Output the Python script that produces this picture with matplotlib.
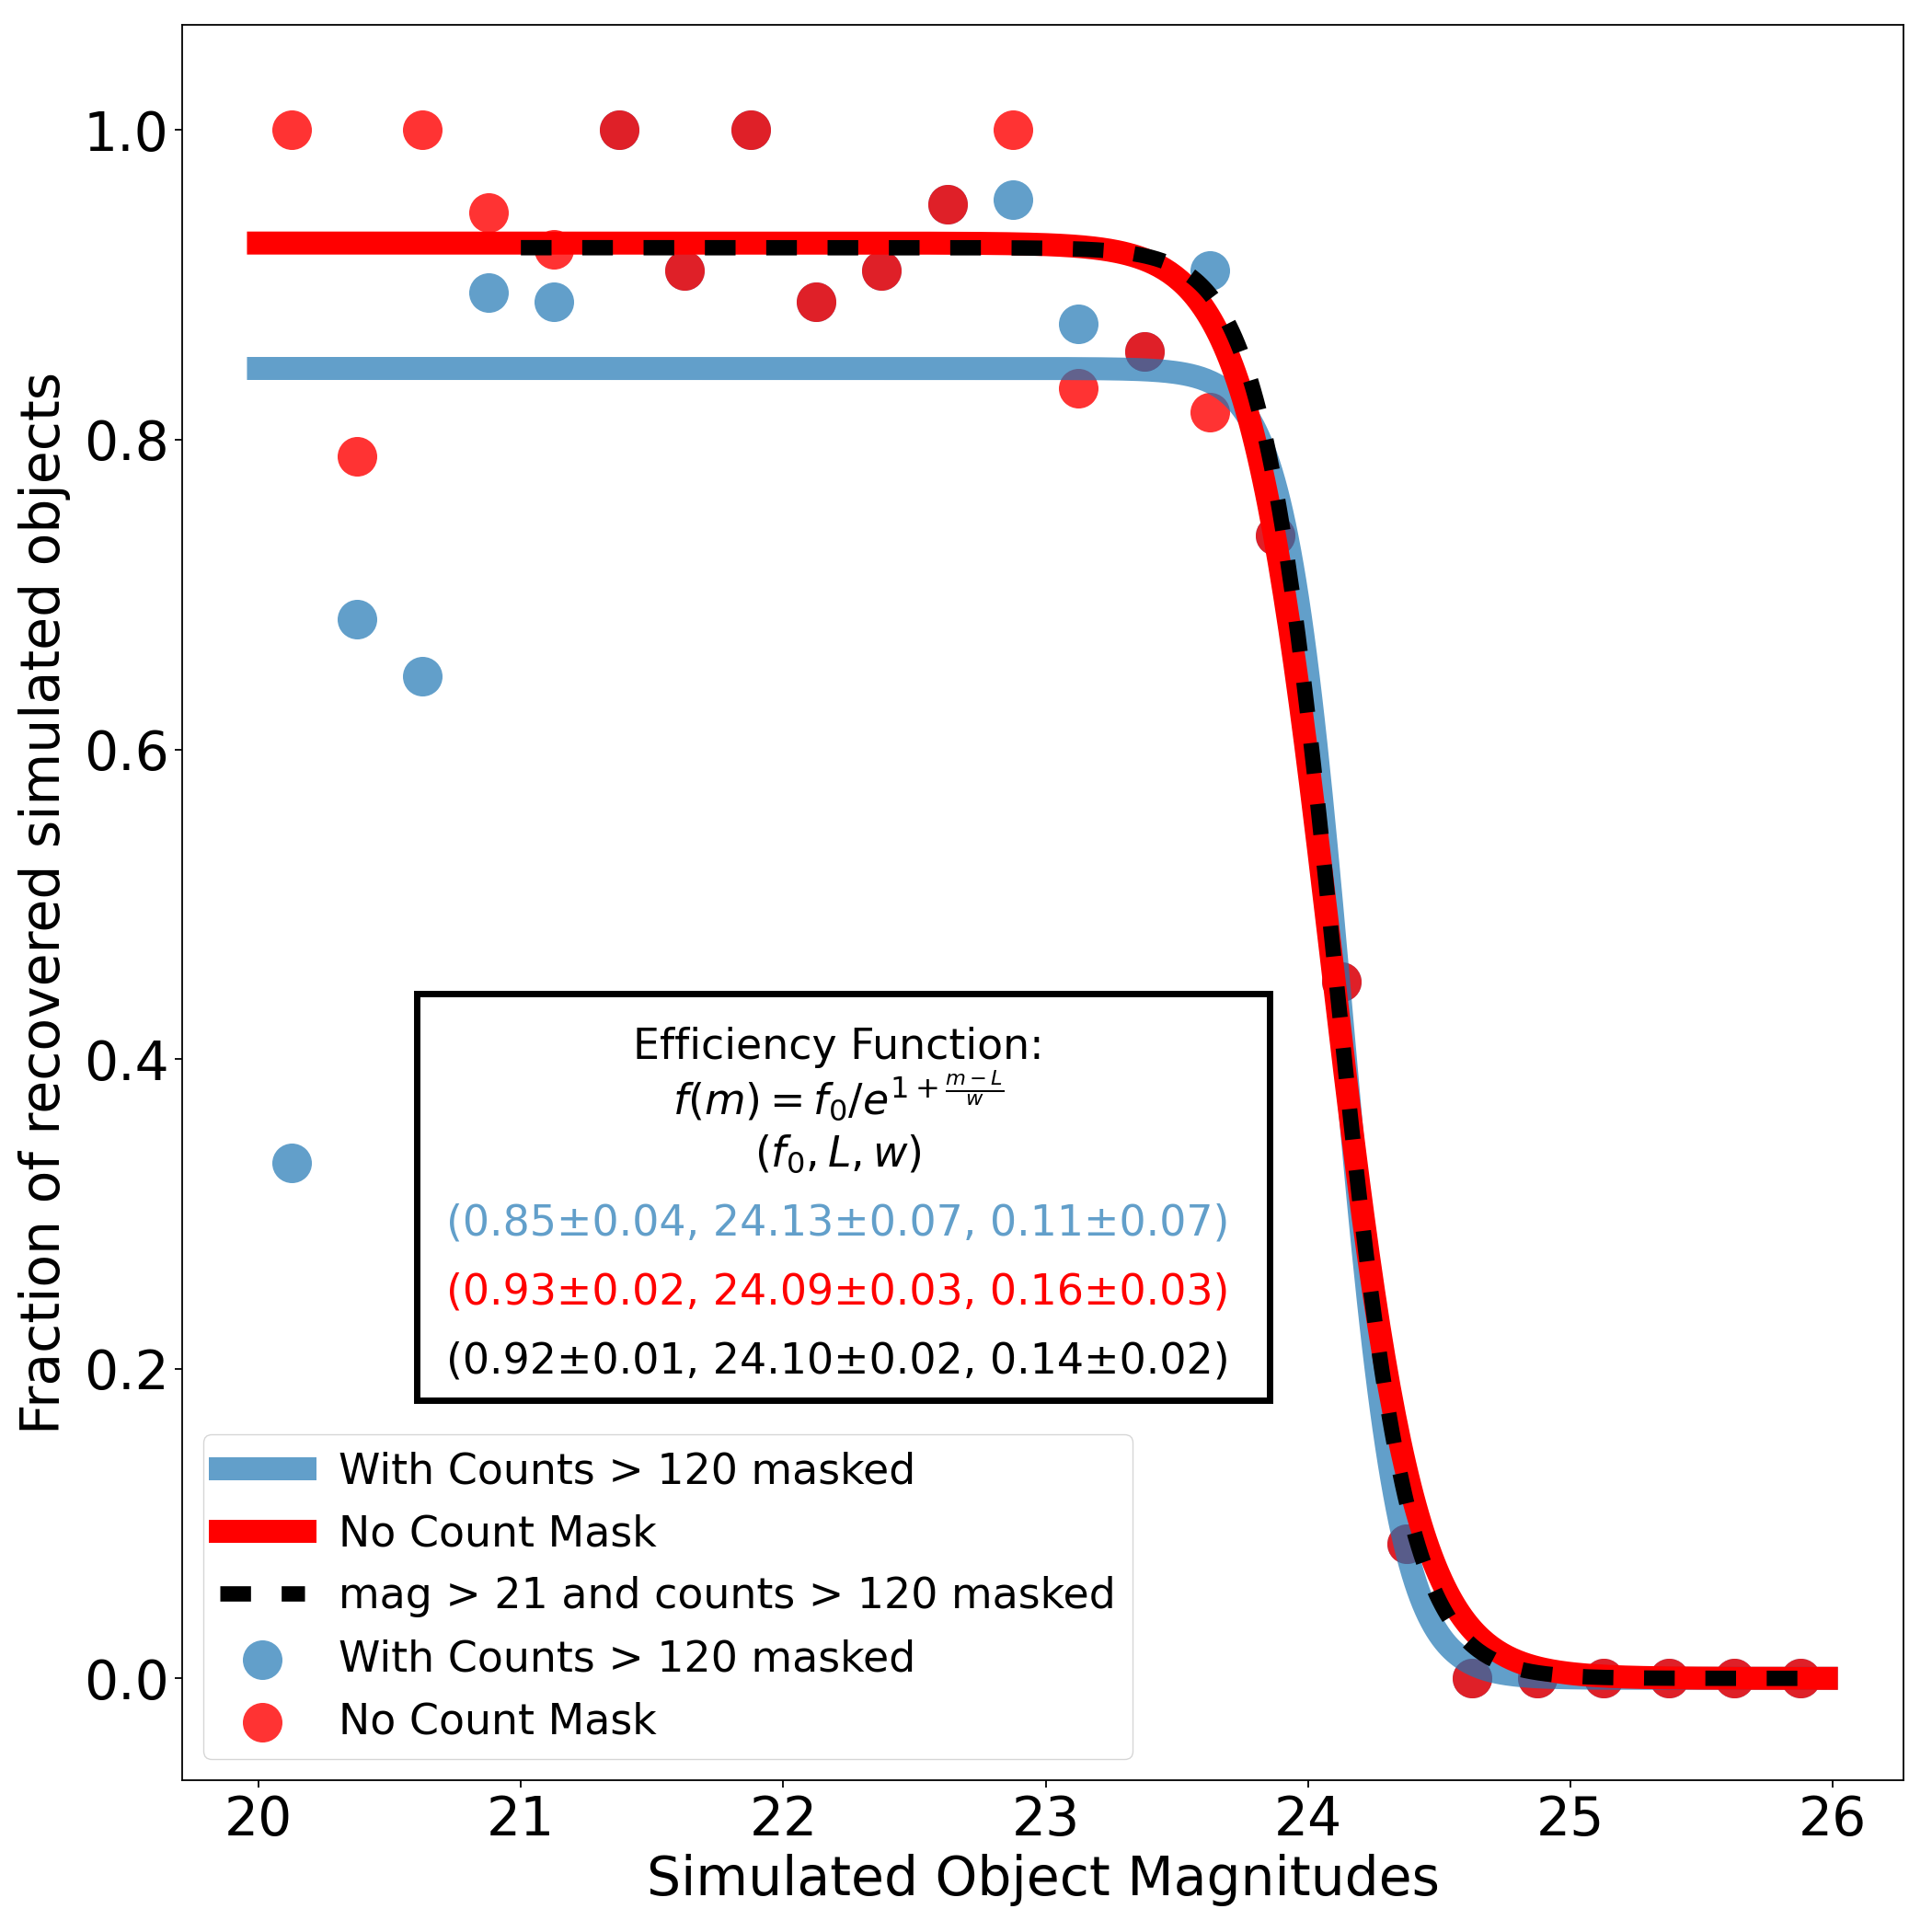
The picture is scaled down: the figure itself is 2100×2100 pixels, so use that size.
import numpy as np
import matplotlib.pyplot as plt
from matplotlib.patches import Rectangle

# ---------------- data ---------------- #
mags = [20.125, 20.375, 20.625, 20.875, 21.125, 21.375, 21.625, 21.875,
        22.125, 22.375, 22.625, 22.875, 23.125, 23.375, 23.625, 23.875,
        24.125, 24.375, 24.625, 24.875, 25.125, 25.375, 25.625, 25.875]

frac_masked = [0.333, 0.684, 0.647, 0.895, 0.889, 1.0, 0.909, 1.0,
               0.889, 0.909, 0.952, 0.955, 0.875, 0.857, 0.909, 0.738,
               0.45, 0.087, 0.0, 0.0, 0.0, 0.0, 0.0, 0.0]

frac_nomask = [1.0, 0.789, 1.0, 0.947, 0.923, 1.0, 0.909, 1.0,
               0.889, 0.909, 0.952, 1.0, 0.833, 0.857, 0.818, 0.738,
               0.45, 0.087, 0.0, 0.0, 0.0, 0.0, 0.0, 0.0]

# fit parameters (f0, L, w) and errors
fit_masked = (0.846, 24.13, 0.11)
err_masked = (0.04, 0.07, 0.07)
fit_nomask = (0.927, 24.09, 0.16)
err_nomask = (0.02, 0.03, 0.03)
fit_faint = (0.924, 24.10, 0.14)
err_faint = (0.01, 0.02, 0.02)

lab_masked = "With Counts > 120 masked"
lab_nomask = "No Count Mask"
lab_faint = "mag > 21 and counts > 120 masked"

# ---------------- fonctions ---------------- #
def efficiency(m, f0, L, w):
    return f0 / (1 + np.exp((m - L) / w))

def fit_text(p, e):
    return "({:.2f}\u00b1{:.2f}, {:.2f}\u00b1{:.2f}, {:.2f}\u00b1{:.2f})".format(
        p[0] - 1e-6, e[0], p[1], e[1], p[2], e[2])

# ---------------- figure ---------------- #
blue = "C0"
fig = plt.figure(figsize=(21, 21), dpi=100)
ax = fig.add_axes([0.0944, 0.0784, 0.891, 0.9088])

sc_b = ax.scatter(mags, frac_masked, s=960, color=blue, alpha=0.7, lw=0, label=lab_masked)
sc_r = ax.scatter(mags, frac_nomask, s=960, color="red", alpha=0.8, lw=0, label=lab_nomask)

m_all = np.linspace(20.0, 25.975, 600)
m_faint = np.linspace(21.0, 25.975, 500)
l_b, = ax.plot(m_all, efficiency(m_all, *fit_masked), color=blue, alpha=0.7, lw=18, label=lab_masked)
l_r, = ax.plot(m_all, efficiency(m_all, *fit_nomask), color="red", lw=18, label=lab_nomask)
l_k, = ax.plot(m_faint, efficiency(m_faint, *fit_faint), color="black", lw=12,
               linestyle=(0, (2, 2)), label=lab_faint)

ax.set_xlim(19.71, 26.27)
ax.set_ylim(-0.066, 1.068)
ax.set_xticks([20, 21, 22, 23, 24, 25, 26])
ax.set_yticks([0.0, 0.2, 0.4, 0.6, 0.8, 1.0])
ax.tick_params(labelsize=42, width=1.3, length=5.5, pad=5)
for sp in ax.spines.values():
    sp.set_linewidth(1.3)
ax.set_xlabel("Simulated Object Magnitudes", fontsize=42, labelpad=6)
ax.set_ylabel("Fraction of recovered simulated objects", fontsize=42, labelpad=10)

# boite avec la fonction d'efficacite
ax.add_patch(Rectangle((0.136, 0.2168), 0.4954, 0.2316, transform=ax.transAxes,
                       fill=False, edgecolor="black", lw=5, zorder=5))
xc = 0.381
ax.text(xc, 0.4175, "Efficiency Function:", transform=ax.transAxes,
        ha="center", va="center", fontsize=33)
ax.text(xc, 0.3895, r"$f(m) = f_0/e^{1+\frac{m-L}{w}}$", transform=ax.transAxes,
        ha="center", va="center", fontsize=33)
ax.text(xc, 0.3565, r"$(f_0, L, w)$", transform=ax.transAxes,
        ha="center", va="center", fontsize=33)
ax.text(xc, 0.3172, fit_text(fit_masked, err_masked), transform=ax.transAxes,
        ha="center", va="center", fontsize=33, color=blue, alpha=0.7)
ax.text(xc, 0.2779, fit_text(fit_nomask, err_nomask), transform=ax.transAxes,
        ha="center", va="center", fontsize=33, color="red")
ax.text(xc, 0.2386, fit_text(fit_faint, err_faint), transform=ax.transAxes,
        ha="center", va="center", fontsize=33, color="black")

ax.legend(handles=[l_b, l_r, l_k, sc_b, sc_r], loc="lower left", fontsize=33)

fig.savefig("out.png", dpi=100)
